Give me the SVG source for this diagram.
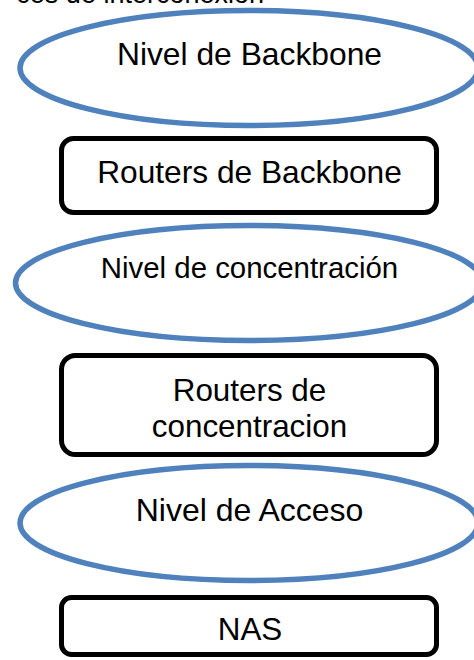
<svg xmlns="http://www.w3.org/2000/svg" width="474" height="660" viewBox="0 0 474 660">
  <style>
    .lvl { fill: #ffffff; stroke: #4f81bd; stroke-width: 5.5; }
    .box { fill: #ffffff; stroke: #000000; stroke-width: 5; }
    text { font-family: "Liberation Sans", Arial, sans-serif; fill: #000000; text-anchor: middle; }
  </style>
  <rect width="474" height="660" fill="#ffffff"/>
  <text x="264" y="2.5" font-size="27" style="text-anchor:end">ces de interconexión</text>
  <g id="connectors"></g>
  <g id="nivel-backbone">
    <ellipse class="lvl" cx="249" cy="68" rx="229" ry="57.5"/>
    <text x="249.5" y="65" font-size="31.8">Nivel de Backbone</text>
  </g>
  <g id="routers-backbone">
    <rect class="box" x="61.5" y="138.5" width="375" height="74" rx="12"/>
    <text x="249.5" y="183" font-size="31.7">Routers de Backbone</text>
  </g>
  <g id="nivel-concentracion">
    <ellipse class="lvl" cx="249" cy="283" rx="233.5" ry="57.5"/>
    <text x="249.5" y="278" font-size="29.4">Nivel de concentración</text>
  </g>
  <g id="routers-concentracion">
    <rect class="box" x="61.5" y="355.5" width="375" height="99" rx="14"/>
    <text x="249.5" y="401" font-size="31.4">Routers de</text>
    <text x="249.5" y="437" font-size="31.4">concentracion</text>
  </g>
  <g id="nivel-acceso">
    <ellipse class="lvl" cx="249" cy="523" rx="229" ry="57.5"/>
    <text x="249.5" y="521" font-size="32">Nivel de Acceso</text>
  </g>
  <g id="nas">
    <rect class="box" x="61.5" y="597.5" width="375" height="57" rx="10"/>
    <text x="250" y="640" font-size="31.4">NAS</text>
  </g>
</svg>
